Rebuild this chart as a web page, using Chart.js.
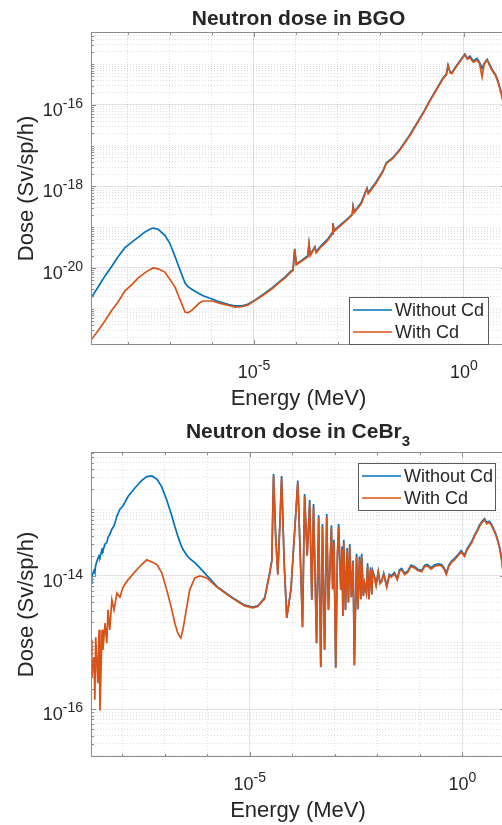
<!DOCTYPE html>
<html>
<head>
<meta charset="utf-8">
<title>Neutron dose</title>
<script src="https://cdn.jsdelivr.net/npm/chart.js@4.4.1/dist/chart.umd.min.js"></script>
<style>
  html, body { margin: 0; padding: 0; background: #fff; overflow: hidden; }
  #wrap { width: 502px; height: 825px; overflow: hidden; position: relative; }
  .box { position: absolute; left: 0; width: 520px; }
  canvas { display: block; }
</style>
</head>
<body>
<div id="wrap">
  <div class="box" style="top:0;height:412px"><canvas id="bgo" width="520" height="412"></canvas></div>
  <div class="box" style="top:412px;height:413px"><canvas id="cebr" width="520" height="413"></canvas></div>
</div>
<script>
// ---- data (energy in MeV, dose in Sv/sp/h) ----

const bgoEnergyMeV = [
  1.32e-9, 2.0e-9, 2.82e-9, 4.17e-9, 5.75e-9, 8.51e-9, 1.26e-8, 1.74e-8, 2.51e-8, 3.31e-8,
  3.98e-8, 5.25e-8, 7.59e-8, 1.0e-7, 1.32e-7, 1.74e-7, 2.29e-7, 2.69e-7, 3.31e-7, 3.98e-7,
  5.01e-7, 6.17e-7, 1.0e-6, 1.58e-6, 2.51e-6, 3.55e-6, 5.01e-6, 7.08e-6, 1.05e-5, 1.58e-5,
  2.69e-5, 3.98e-5, 5.50e-5, 7.59e-5, 8.51e-5, 9.33e-5, 1.02e-4, 1.41e-4, 1.91e-4, 2.04e-4,
  2.19e-4, 2.82e-4, 3.02e-4, 3.98e-4, 5.62e-4, 7.24e-4, 7.59e-4, 8.13e-4, 1.12e-3, 1.58e-3,
  2.19e-3, 2.29e-3, 2.45e-3, 3.55e-3, 4.90e-3, 5.25e-3, 7.94e-3, 1.17e-2, 1.41e-2, 2.0e-2,
  3.02e-2, 5.01e-2, 7.59e-2, 0.112, 0.155, 0.224, 0.316, 0.380, 0.417, 0.468,
  0.513, 0.631, 0.794, 1.05, 1.20, 1.38, 1.66, 2.04, 2.34, 2.69,
  3.02, 3.55, 4.17, 4.90, 5.62, 6.46, 7.94, 10.0
];
const bgoDoseNoCd = [
  1.82e-21, 3.55e-21, 6.31e-21, 1.12e-20, 1.86e-20, 3.16e-20, 4.37e-20, 5.62e-20, 7.59e-20, 8.91e-20,
  9.55e-20, 8.91e-20, 6.31e-20, 3.98e-20, 1.91e-20, 8.91e-21, 4.27e-21, 3.47e-21, 3.02e-21, 2.69e-21,
  2.34e-21, 2.09e-21, 1.74e-21, 1.45e-21, 1.26e-21, 1.17e-21, 1.17e-21, 1.29e-21, 1.62e-21, 2.19e-21,
  3.24e-21, 4.57e-21, 6.03e-21, 8.32e-21, 8.91e-21, 2.95e-20, 1.26e-20, 1.58e-20, 2.0e-20, 3.98e-20,
  2.14e-20, 3.31e-20, 2.51e-20, 3.55e-20, 5.01e-20, 7.24e-20, 1.26e-19, 8.32e-20, 1.12e-19, 1.51e-19,
  2.09e-19, 3.31e-19, 2.40e-19, 3.98e-19, 9.12e-19, 7.08e-19, 1.26e-18, 2.40e-18, 3.80e-18, 5.01e-18,
  8.32e-18, 1.78e-17, 3.63e-17, 7.08e-17, 1.32e-16, 2.51e-16, 4.57e-16, 5.75e-16, 9.55e-16, 6.31e-16,
  6.17e-16, 8.51e-16, 1.20e-15, 1.78e-15, 1.38e-15, 1.58e-15, 1.20e-15, 1.38e-15, 1.12e-15, 7.94e-16,
  1.05e-15, 1.32e-15, 9.55e-16, 6.76e-16, 5.62e-16, 3.89e-16, 1.78e-16, 6.31e-17
];
const bgoDoseCd = [
  1.70e-22, 3.02e-22, 5.01e-22, 9.33e-22, 1.45e-21, 2.75e-21, 3.98e-21, 5.62e-21, 7.59e-21, 9.12e-21,
  1.0e-20, 9.55e-21, 7.94e-21, 5.25e-21, 3.39e-21, 1.66e-21, 8.32e-22, 7.94e-22, 9.12e-22, 1.10e-21,
  1.38e-21, 1.55e-21, 1.55e-21, 1.35e-21, 1.20e-21, 1.10e-21, 1.12e-21, 1.23e-21, 1.58e-21, 2.09e-21,
  3.09e-21, 4.37e-21, 5.75e-21, 7.94e-21, 8.71e-21, 2.82e-20, 1.20e-20, 1.51e-20, 1.86e-20, 3.80e-20,
  2.0e-20, 3.16e-20, 2.34e-20, 3.31e-20, 4.68e-20, 6.76e-20, 1.20e-19, 7.94e-20, 1.07e-19, 1.45e-19,
  2.0e-19, 3.16e-19, 2.29e-19, 3.72e-19, 8.71e-19, 6.61e-19, 1.17e-18, 2.29e-18, 3.63e-18, 4.79e-18,
  7.94e-18, 1.70e-17, 3.47e-17, 6.76e-17, 1.26e-16, 2.40e-16, 4.37e-16, 5.50e-16, 9.12e-16, 6.17e-16,
  5.89e-16, 8.13e-16, 1.15e-15, 1.70e-15, 1.32e-15, 1.45e-15, 1.12e-15, 1.26e-15, 1.05e-15, 4.90e-16,
  1.0e-15, 1.26e-15, 8.91e-16, 6.46e-16, 5.25e-16, 3.63e-16, 1.66e-16, 5.62e-17
];

const cebrEnergyMeV = [
  1.86e-9, 1.95e-9, 2.19e-9, 2.29e-9, 2.40e-9, 2.69e-9, 2.88e-9, 3.02e-9, 3.39e-9, 3.55e-9,
  3.98e-9, 4.37e-9, 4.68e-9, 5.13e-9, 5.75e-9, 6.46e-9, 7.59e-9, 8.91e-9, 1.05e-8, 1.38e-8,
  2.0e-8, 2.88e-8, 3.80e-8, 5.01e-8, 6.61e-8, 8.51e-8, 1.12e-7, 1.48e-7, 1.74e-7, 2.04e-7,
  2.40e-7, 2.69e-7, 3.31e-7, 3.89e-7, 5.13e-7, 6.76e-7, 9.77e-7, 1.78e-6, 3.80e-6, 7.59e-6,
  1.17e-5, 1.55e-5, 1.91e-5, 2.24e-5, 2.63e-5, 2.95e-5, 3.31e-5,
  3.63e-5, 4.07e-5, 4.57e-5, 5.13e-5, 5.62e-5, 6.46e-5, 7.41e-5, 9.33e-5, 1.12e-4, 1.35e-4,
  1.58e-4, 1.74e-4, 1.95e-4, 2.24e-4, 2.57e-4, 2.88e-4, 3.16e-4, 3.72e-4, 4.17e-4, 4.68e-4,
  5.13e-4, 5.75e-4, 6.46e-4, 7.08e-4, 8.32e-4, 8.91e-4, 9.55e-4, 1.05e-3, 1.15e-3, 1.23e-3,
  1.38e-3, 1.48e-3, 1.55e-3, 1.62e-3, 1.78e-3, 1.95e-3, 2.09e-3, 2.24e-3, 2.45e-3, 2.69e-3,
  2.88e-3, 3.24e-3, 3.47e-3, 3.80e-3, 4.07e-3, 4.27e-3, 4.68e-3, 5.01e-3, 5.50e-3, 5.89e-3,
  6.31e-3, 6.92e-3, 7.41e-3, 7.76e-3, 8.51e-3, 9.33e-3, 1.05e-2, 1.15e-2, 1.26e-2, 1.41e-2,
  1.66e-2, 1.91e-2, 2.14e-2, 2.51e-2, 2.95e-2, 3.31e-2, 3.72e-2, 4.37e-2, 5.13e-2, 6.17e-2,
  7.41e-2, 8.91e-2, 0.110, 0.129, 0.151, 0.182, 0.219, 0.269, 0.324, 0.372,
  0.417, 0.479, 0.550, 0.646, 0.759, 0.933, 1.12, 1.26, 1.45, 1.66,
  1.91, 2.19, 2.51, 2.88, 3.31, 3.72, 4.27, 4.79, 5.37, 6.03,
  6.61, 7.41, 8.32, 9.12, 10.0
];
const cebrDoseNoCd = [
  7.76e-15, 1.0e-14, 1.20e-14, 1.12e-14, 1.45e-14, 1.82e-14, 2.0e-14, 1.91e-14, 2.51e-14, 2.40e-14,
  3.02e-14, 3.16e-14, 3.80e-14, 4.17e-14, 5.01e-14, 5.62e-14, 7.94e-14, 1.0e-13, 1.12e-13, 1.55e-13,
  2.09e-13, 2.69e-13, 3.09e-13, 3.16e-13, 2.82e-13, 2.19e-13, 1.38e-13, 7.94e-14, 5.50e-14, 3.98e-14,
  2.95e-14, 2.51e-14, 2.04e-14, 1.82e-14, 1.58e-14, 1.32e-14, 1.02e-14, 6.76e-15, 4.79e-15, 3.63e-15,
  3.39e-15, 3.55e-15, 4.17e-15, 4.68e-15, 7.76e-15, 1.12e-14, 1.74e-14,
  3.39e-13, 3.98e-14, 1.05e-14, 6.31e-14, 3.16e-13, 1.58e-14, 2.34e-15, 6.31e-15, 3.98e-14, 2.69e-13,
  1.26e-14, 1.70e-15, 1.70e-13, 2.0e-14, 1.38e-13, 4.37e-15, 1.20e-13, 9.77e-16, 8.13e-14, 4.27e-16,
  6.03e-14, 7.76e-16, 8.51e-14, 3.09e-15, 5.75e-14, 6.31e-15, 3.47e-14, 4.17e-16, 2.0e-14, 6.03e-14,
  6.17e-15, 2.75e-14, 2.51e-15, 3.47e-14, 3.09e-15, 2.63e-14, 3.98e-15, 3.02e-14, 4.79e-15, 1.70e-14,
  4.57e-16, 2.14e-14, 3.16e-15, 1.95e-14, 4.47e-15, 2.14e-14, 5.01e-15, 7.76e-15, 5.62e-15, 1.55e-14,
  4.47e-15, 1.35e-14, 5.25e-15, 1.20e-14, 1.0e-14, 7.41e-15, 1.17e-14, 7.94e-15, 8.51e-15, 1.10e-14,
  7.08e-15, 1.05e-14, 1.0e-14, 1.12e-14, 9.12e-15, 1.23e-14, 1.29e-14, 1.10e-14, 1.17e-14, 1.45e-14,
  1.38e-14, 1.26e-14, 1.20e-14, 1.45e-14, 1.48e-14, 1.32e-14, 1.45e-14, 1.51e-14, 1.48e-14, 1.32e-14,
  1.10e-14, 1.45e-14, 1.66e-14, 1.82e-14, 2.04e-14, 2.40e-14, 2.04e-14, 2.51e-14, 2.88e-14, 3.31e-14,
  4.07e-14, 4.79e-14, 5.75e-14, 6.61e-14, 7.24e-14, 6.31e-14, 6.61e-14, 6.03e-14, 5.13e-14, 4.37e-14,
  3.63e-14, 2.75e-14, 1.82e-14, 1.10e-14, 5.25e-15
];
const cebrDoseCd = [
  1.10e-15, 3.02e-16, 6.03e-16, 1.38e-16, 1.20e-15, 2.45e-16, 1.55e-15, 9.55e-17, 1.55e-15, 7.76e-16,
  1.95e-15, 9.77e-16, 3.09e-15, 1.55e-15, 4.37e-15, 3.09e-15, 5.50e-15, 4.79e-15, 6.76e-15, 8.71e-15,
  1.15e-14, 1.48e-14, 1.74e-14, 1.62e-14, 1.48e-14, 1.12e-14, 6.17e-15, 3.09e-15, 1.95e-15, 1.38e-15,
  1.17e-15, 1.55e-15, 3.39e-15, 6.17e-15, 9.33e-15, 1.0e-14, 9.33e-15, 6.61e-15, 4.68e-15, 3.55e-15,
  3.31e-15, 3.47e-15, 4.07e-15, 4.47e-15, 7.59e-15, 1.07e-14, 1.66e-14,
  3.16e-13, 3.98e-14, 1.05e-14, 6.31e-14, 2.95e-13, 1.58e-14, 2.34e-15, 6.31e-15, 3.98e-14, 2.51e-13,
  1.26e-14, 1.70e-15, 1.55e-13, 2.0e-14, 1.26e-13, 4.37e-15, 1.10e-13, 9.77e-16, 7.41e-14, 4.27e-16,
  5.50e-14, 7.76e-16, 7.76e-14, 3.09e-15, 5.25e-14, 6.31e-15, 3.16e-14, 4.17e-16, 2.0e-14, 5.50e-14,
  6.17e-15, 2.51e-14, 2.51e-15, 3.16e-14, 3.09e-15, 2.40e-14, 3.98e-15, 2.75e-14, 4.79e-15, 1.58e-14,
  4.57e-16, 1.95e-14, 3.16e-15, 1.78e-14, 4.47e-15, 1.95e-14, 5.01e-15, 7.76e-15, 5.62e-15, 1.41e-14,
  4.47e-15, 1.26e-14, 5.25e-15, 1.12e-14, 9.55e-15, 7.08e-15, 1.12e-14, 7.59e-15, 8.13e-15, 1.05e-14,
  6.76e-15, 1.0e-14, 9.55e-15, 1.07e-14, 8.71e-15, 1.17e-14, 1.23e-14, 1.05e-14, 1.12e-14, 1.38e-14,
  1.32e-14, 1.20e-14, 1.15e-14, 1.38e-14, 1.41e-14, 1.26e-14, 1.38e-14, 1.45e-14, 1.41e-14, 1.26e-14,
  1.05e-14, 1.38e-14, 1.58e-14, 1.74e-14, 1.95e-14, 2.29e-14, 1.95e-14, 2.40e-14, 2.75e-14, 3.16e-14,
  3.89e-14, 4.57e-14, 5.50e-14, 6.31e-14, 6.92e-14, 6.03e-14, 6.31e-14, 5.75e-14, 4.90e-14, 4.17e-14,
  3.47e-14, 2.63e-14, 1.74e-14, 1.05e-14, 5.01e-15
];

const seriesLabels = ['Without Cd', 'With Cd'];
const bgoXLimits = [1.32e-9, 10];
const bgoYLimits = [1.29e-22, 6.17e-15];
const cebrXLimits = [1.86e-9, 10];
const cebrYLimits = [1.91e-17, 7.24e-13];
const xTickExponents = [-5, 0];
const bgoYTickExponents = [-20, -18, -16];
const cebrYTickExponents = [-16, -14];

// ---- MATLAB-ish look ----
const FONT = "'Liberation Sans', Arial, Helvetica, sans-serif";
const INK = '#262626';
const BLUE = '#0072BD';
const ORANGE = '#D95319';

const isDecade = v => Math.abs(Math.log10(v) - Math.round(Math.log10(v))) < 1e-6;
const isLabelled = (v, list) => !!v && isDecade(v) && list.includes(Math.round(Math.log10(v)));

function decadeTicks(scale) {
  const out = [];
  for (let p = Math.ceil(Math.log10(scale.min) - 1e-9); p <= Math.floor(Math.log10(scale.max) + 1e-9); p++) {
    out.push({ value: Math.pow(10, p) });
  }
  scale.ticks = out;
}

function minorTicks(scale) {
  const out = [];
  const lo = Math.floor(Math.log10(scale.min)), hi = Math.ceil(Math.log10(scale.max));
  for (let p = lo; p <= hi; p++) {
    for (let k = 1; k <= 9; k++) {
      const v = k * Math.pow(10, p);
      if (v >= scale.min && v <= scale.max) out.push({ value: v });
    }
  }
  scale.ticks = out;
}

const gridColor = labelled => ctx =>
  isLabelled(ctx.tick && ctx.tick.value, labelled) ? 'rgba(38,38,38,0.13)' : 'rgba(38,38,38,0.15)';
const gridDash = labelled => ctx =>
  (!ctx.tick || isLabelled(ctx.tick.value, labelled)) ? [] : [1, 2];

function drawPow(ctx, x, y, exp, align) {
  // "10" with a raised exponent, like MATLAB's tex labels
  ctx.font = '18px ' + FONT;
  const w1 = ctx.measureText('10').width;
  ctx.font = '14px ' + FONT;
  const w2 = ctx.measureText(String(exp)).width;
  const start = align === 'right' ? x - w1 - w2 : x - (w1 + w2) / 2;
  ctx.textAlign = 'left';
  ctx.textBaseline = 'alphabetic';
  ctx.font = '18px ' + FONT;
  ctx.fillText('10', start, y);
  ctx.font = '14px ' + FONT;
  ctx.fillText(String(exp), start + w1, y - 8);
}

const matlabLook = {
  id: 'matlabLook',
  afterDraw(chart, args, opts) {
    const { ctx, chartArea: a } = chart;
    const xs = chart.scales.x, ys = chart.scales.y;
    ctx.save();

    // axes box and inward tick marks
    ctx.strokeStyle = '#8c8c8c';
    ctx.lineWidth = 1;
    ctx.strokeRect(a.left + 0.5, a.top + 0.5, a.right - a.left - 1, a.bottom - a.top - 1);
    ctx.beginPath();
    xs.ticks.forEach(t => {
      const px = Math.round(xs.getPixelForValue(t.value)) + 0.5;
      const len = isLabelled(t.value, opts.xLabels) ? 5 : 3;
      ctx.moveTo(px, a.bottom); ctx.lineTo(px, a.bottom - len);
      ctx.moveTo(px, a.top); ctx.lineTo(px, a.top + len);
    });
    ys.ticks.forEach(t => {
      const py = Math.round(ys.getPixelForValue(t.value)) + 0.5;
      const len = isLabelled(t.value, opts.yLabels) ? 5 : 3;
      ctx.moveTo(a.left, py); ctx.lineTo(a.left + len, py);
      ctx.moveTo(a.right, py); ctx.lineTo(a.right - len, py);
    });
    ctx.stroke();

    // tick labels
    ctx.fillStyle = INK;
    opts.xLabels.forEach(e => drawPow(ctx, xs.getPixelForValue(Math.pow(10, e)), a.bottom + 33, e, 'center'));
    opts.yLabels.forEach(e => drawPow(ctx, a.left - 8, ys.getPixelForValue(Math.pow(10, e)) + 11, e, 'right'));

    // title
    const cx = (a.left + a.right) / 2;
    ctx.font = 'bold 21px ' + FONT;
    const wMain = ctx.measureText(opts.title).width;
    let wSub = 0;
    if (opts.titleSub) { ctx.font = 'bold 15px ' + FONT; wSub = ctx.measureText(opts.titleSub).width; }
    const tx = cx - (wMain + wSub) / 2;
    ctx.textAlign = 'left';
    ctx.font = 'bold 21px ' + FONT;
    ctx.fillText(opts.title, tx, opts.titleY);
    if (opts.titleSub) {
      ctx.font = 'bold 15px ' + FONT;
      ctx.fillText(opts.titleSub, tx + wMain, opts.titleY + 8);
    }

    // axis titles
    ctx.font = '22px ' + FONT;
    ctx.textAlign = 'center';
    ctx.fillText('Energy (MeV)', cx, a.bottom + 60);
    ctx.save();
    ctx.translate(33, (a.top + a.bottom) / 2);
    ctx.rotate(-Math.PI / 2);
    ctx.fillText('Dose (Sv/sp/h)', 0, 0);
    ctx.restore();

    // legend
    const L = opts.legend;
    ctx.fillStyle = '#fff';
    ctx.fillRect(L.x, L.y, L.w, L.h);
    ctx.strokeStyle = '#5a5a5a';
    ctx.strokeRect(L.x + 0.5, L.y + 0.5, L.w - 1, L.h - 1);
    ctx.font = '18px ' + FONT;
    ctx.textAlign = 'left';
    ctx.textBaseline = 'middle';
    chart.data.datasets.forEach((ds, i) => {
      const ly = L.y + 13 + i * 22;
      ctx.strokeStyle = ds.borderColor;
      ctx.lineWidth = 1.7;
      ctx.beginPath(); ctx.moveTo(L.x + 4, ly); ctx.lineTo(L.x + 43, ly); ctx.stroke();
      ctx.fillStyle = INK;
      ctx.fillText(ds.label, L.x + 46, ly + 1);
    });
    ctx.restore();
  }
};

function makeChart(id, energy, noCd, withCd, xLim, yLim, yLabels, look, padding) {
  const toPts = vals => energy.map((e, i) => ({ x: e, y: vals[i] }));
  return new Chart(document.getElementById(id), {
    type: 'line',
    data: {
      datasets: [
        { label: seriesLabels[0], data: toPts(noCd), borderColor: BLUE, borderWidth: 1.7, order: 2 },
        { label: seriesLabels[1], data: toPts(withCd), borderColor: ORANGE, borderWidth: 1.7, order: 1 }
      ]
    },
    options: {
      responsive: false,
      animation: false,
      layout: { padding },
      elements: { point: { radius: 0 }, line: { tension: 0 } },
      plugins: {
        legend: { display: false },
        tooltip: { enabled: false },
        matlabLook: Object.assign({ xLabels: xTickExponents, yLabels }, look)
      },
      scales: {
        x: {
          type: 'logarithmic', min: xLim[0], max: xLim[1],
          afterBuildTicks: decadeTicks,
          afterFit: s => { s.height = 0; },
          ticks: { display: false },
          border: { display: false, dash: gridDash(xTickExponents) },
          grid: { drawTicks: false, color: gridColor(xTickExponents), lineWidth: 1 }
        },
        y: {
          type: 'logarithmic', min: yLim[0], max: yLim[1],
          afterBuildTicks: minorTicks,
          afterFit: s => { s.width = 0; },
          ticks: { display: false },
          border: { display: false, dash: gridDash(yLabels) },
          grid: { drawTicks: false, color: gridColor(yLabels), lineWidth: 1 }
        }
      }
    },
    plugins: [matlabLook]
  });
}

makeChart('bgo', bgoEnergyMeV, bgoDoseNoCd, bgoDoseCd, bgoXLimits, bgoYLimits, bgoYTickExponents,
  { title: 'Neutron dose in BGO', titleY: 25, legend: { x: 349, y: 297, w: 140, h: 48 } },
  { left: 91, top: 32, right: 14, bottom: 67 });

makeChart('cebr', cebrEnergyMeV, cebrDoseNoCd, cebrDoseCd, cebrXLimits, cebrYLimits, cebrYTickExponents,
  { title: 'Neutron dose in CeBr', titleSub: '3', titleY: 26, legend: { x: 358, y: 51, w: 138, h: 48 } },
  { left: 91, top: 40, right: 15, bottom: 68 });
</script>
</body>
</html>
